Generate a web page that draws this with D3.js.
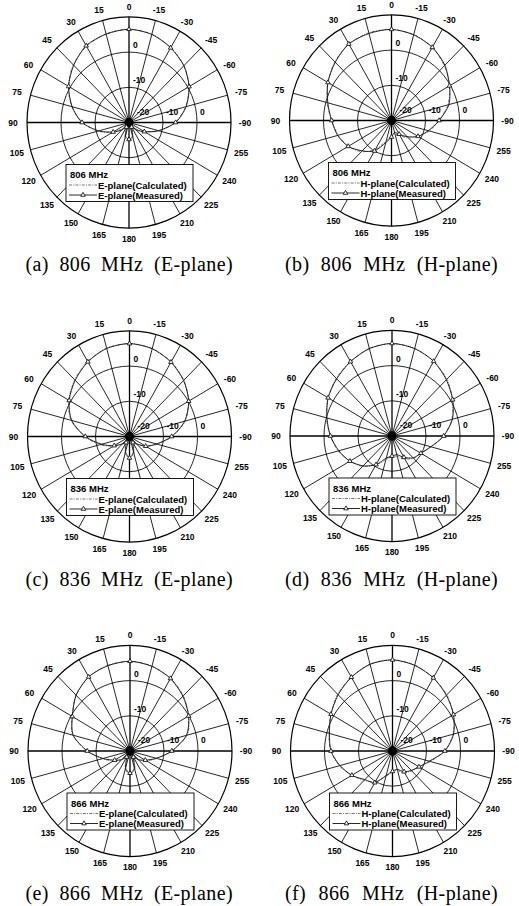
<!DOCTYPE html>
<html>
<head>
<meta charset="utf-8">
<script src="https://cdn.jsdelivr.net/npm/d3@7"></script>
<style>
  body { margin: 0; background: #fff; }
  svg { display: block; }
</style>
</head>
<body>
<svg id="fig" width="519" height="906"></svg>
<script>
// Azimuth of each sample (degrees, counter-clockwise from the top)
const angles = [0, 15, 30, 45, 60, 75, 90, 105, 120, 135, 150, 165,
                180, 195, 210, 225, 240, 255, 270, 285, 300, 315, 330, 345];
// Labels printed around the rim for each spoke
const angleLabels = ["0", "15", "30", "45", "60", "75", "90", "105", "120", "135", "150", "165",
                     "180", "195", "210", "225", "240", "255", "-90", "-75", "-60", "-45", "-30", "-15"];
// Radial (gain, dB) rings
const ringValues = [-10, 0, 10];
const radialLabelsH = [-20, -10, 0];
const radialLabelsV = [-10, 0];

// Radiation patterns in dB, one value per entry of `angles`
const e806Calc = [6.5, 6.1, 5.0, 3.2, 0.6, -2.6, -6.3, -10.5, -14.5, -17.5, -18.0, -15.5, -15.0, -15.5, -18.0, -17.5, -14.8, -10.8, -6.4, -2.8, 0.4, 2.9, 4.6, 6.0];
const e806Meas = [6.5, 6.0, 5.2, 3.0, 0.5, -2.7, -6.2, -10.8, -14.6, -17.0, -18.5, -16.0, -15.2, -16.0, -18.5, -17.0, -14.8, -11.0, -6.3, -2.6, 0.4, 2.8, 4.5, 5.9];
const h806Calc = [5.9, 5.8, 5.1, 3.6, 1.6, -0.4, -2.4, -3.8, -5.3, -7.5, -10.5, -14.0, -15.5, -16.0, -15.0, -13.0, -11.0, -8.5, -6.0, -2.8, -0.3, 2.0, 4.0, 5.3];
const h806Meas = [5.9, 5.6, 5.1, 3.4, 1.6, -0.6, -2.4, -3.6, -5.3, -7.8, -10.0, -13.5, -15.3, -16.5, -15.5, -13.5, -11.0, -8.8, -6.0, -2.5, -0.3, 2.2, 4.0, 5.2];
const e836Calc = [6.4, 6.0, 4.6, 2.8, 0.6, -2.2, -6.8, -11.0, -14.5, -17.0, -17.5, -15.0, -14.0, -15.0, -17.5, -17.0, -14.5, -11.5, -7.4, -3.0, 0.1, 2.6, 4.5, 5.9];
const e836Meas = [6.4, 5.9, 4.5, 2.6, 0.5, -2.4, -7.0, -11.5, -14.8, -17.0, -18.0, -15.5, -13.9, -15.5, -18.0, -17.0, -14.5, -11.8, -7.6, -3.2, 0.1, 2.5, 4.4, 5.8];
const h836Calc = [6.3, 5.8, 4.4, 3.2, 1.7, 0.0, -1.9, -3.6, -5.7, -7.8, -10.6, -13.0, -14.3, -14.0, -12.5, -11.0, -10.2, -8.0, -4.8, -1.8, 0.6, 2.8, 4.5, 5.8];
const h836Meas = [6.3, 5.7, 4.4, 3.0, 1.7, -0.2, -1.9, -3.8, -5.7, -8.0, -10.6, -13.5, -14.3, -14.5, -13.0, -11.2, -10.2, -8.2, -4.8, -1.6, 0.6, 2.6, 4.5, 5.7];
const e866Calc = [5.5, 5.2, 4.3, 2.5, -0.4, -2.5, -7.4, -11.5, -14.5, -16.5, -17.5, -14.5, -13.7, -14.5, -17.5, -16.5, -14.5, -11.8, -7.7, -2.6, -0.1, 2.2, 3.8, 5.0];
const e866Meas = [5.5, 5.1, 4.3, 2.4, -0.4, -2.7, -7.4, -11.8, -14.8, -16.5, -18.0, -15.0, -13.7, -15.0, -18.0, -16.5, -14.8, -12.0, -7.7, -2.8, -0.1, 2.0, 3.8, 4.9];
const h866Calc = [5.9, 5.6, 4.2, 2.8, 0.9, -0.6, -1.9, -3.8, -6.2, -8.2, -10.0, -12.5, -14.2, -14.2, -13.0, -12.0, -11.0, -8.5, -4.6, -1.6, 0.7, 2.6, 4.0, 5.3];
const h866Meas = [5.9, 5.5, 4.2, 2.6, 0.9, -0.8, -1.9, -4.0, -6.2, -8.5, -9.6, -12.8, -14.2, -14.6, -13.2, -12.2, -11.0, -8.8, -4.6, -1.4, 0.7, 2.4, 4.0, 5.2];

const panels = [
  { tag: "(a)", freq: "806 MHz", plane: "E-plane", calc: e806Calc, meas: e806Meas },
  { tag: "(b)", freq: "806 MHz", plane: "H-plane", calc: h806Calc, meas: h806Meas },
  { tag: "(c)", freq: "836 MHz", plane: "E-plane", calc: e836Calc, meas: e836Meas },
  { tag: "(d)", freq: "836 MHz", plane: "H-plane", calc: h836Calc, meas: h836Meas },
  { tag: "(e)", freq: "866 MHz", plane: "E-plane", calc: e866Calc, meas: e866Meas },
  { tag: "(f)", freq: "866 MHz", plane: "H-plane", calc: h866Calc, meas: h866Meas }
];

// Page layout: centre of each polar plot and caption rows
const centers = [[129, 122.5], [391.5, 120.5], [129.5, 436.5], [392, 436], [130, 751], [392.5, 751]];
const captionX = [25.5, 285];
const captionW = [207.5, 213];
const captionY = [271, 585.5, 900];

const R = 102;        // outer rim radius
const ky = 1.035;     // slight vertical stretch of the printed figure
const sans = "'Liberation Sans', Arial, sans-serif";

const rScale = d3.scaleLinear().domain([-20, 10]).range([0, R]).clamp(true);
const aScale = d3.scaleLinear().domain([0, 360]).range([0, 2 * Math.PI]);

function pt(deg, r) {
  const a = aScale(deg);
  return [-r * Math.sin(a), -r * Math.cos(a) * ky];
}

const svg = d3.select("#fig");
const curve = d3.line().x(d => d[0]).y(d => d[1]).curve(d3.curveCardinalClosed.tension(0.2));
const tri = d3.symbol().type(d3.symbolTriangle).size(9);

panels.forEach((p, i) => {
  const [cx, cy] = centers[i];
  const g = svg.append("g").attr("transform", `translate(${cx},${cy})`);

  // spokes
  g.selectAll("line.spoke").data(angles).join("line")
    .attr("class", "spoke")
    .attr("x1", 0).attr("y1", 0)
    .attr("x2", d => pt(d, R)[0]).attr("y2", d => pt(d, R)[1])
    .attr("stroke", "#000")
    .attr("stroke-width", d => d % 90 === 0 ? 1.3 : 0.85);

  // rings
  g.selectAll("ellipse.ring").data(ringValues).join("ellipse")
    .attr("class", "ring")
    .attr("rx", d => rScale(d)).attr("ry", d => rScale(d) * ky)
    .attr("fill", "none").attr("stroke", "#000")
    .attr("stroke-width", d => d === 10 ? 1.2 : 0.85);

  // dense hub where the spokes meet
  g.append("ellipse").attr("rx", 4.5).attr("ry", 4.5 * ky).attr("fill", "#000");

  // pattern curves
  const calcPts = p.calc.map((v, k) => pt(angles[k], rScale(v)));
  const measPts = p.meas.map((v, k) => pt(angles[k], rScale(v)));
  g.append("path").attr("d", curve(calcPts))
    .attr("fill", "none").attr("stroke", "#666").attr("stroke-width", 0.9)
    .attr("stroke-dasharray", "3,1.2,1,1.2");
  g.append("path").attr("d", curve(measPts))
    .attr("fill", "none").attr("stroke", "#111").attr("stroke-width", 0.9);
  g.selectAll("path.mk").data(measPts.filter((d, k) => k % 2 === 0)).join("path")
    .attr("class", "mk")
    .attr("d", tri)
    .attr("transform", d => `translate(${d[0]},${d[1]})`)
    .attr("fill", "#fff").attr("stroke", "#000").attr("stroke-width", 0.8);

  // angle labels round the rim
  g.selectAll("text.ang").data(angles).join("text")
    .attr("class", "ang")
    .attr("x", d => pt(d, 116)[0]).attr("y", d => pt(d, 116)[1] / ky)
    .attr("text-anchor", "middle").attr("dominant-baseline", "central")
    .attr("font-family", sans).attr("font-weight", "bold").attr("font-size", 8.5)
    .text((d, k) => angleLabels[k]);

  // radial labels along the horizontal axis
  g.selectAll("text.rh").data(radialLabelsH).join("text")
    .attr("class", "rh")
    .attr("x", d => rScale(d) + (d === -20 ? 8 : 3)).attr("y", -11)
    .attr("dominant-baseline", "central")
    .attr("font-family", sans).attr("font-weight", "bold").attr("font-size", 8.5)
    .text(d => d);

  // radial labels along the vertical axis
  g.selectAll("text.rv").data(radialLabelsV).join("text")
    .attr("class", "rv")
    .attr("x", 4).attr("y", d => -rScale(d) * ky - 7)
    .attr("dominant-baseline", "central")
    .attr("font-family", sans).attr("font-weight", "bold").attr("font-size", 8.5)
    .text(d => d);

  // legend box
  const lg = g.append("g").attr("transform", "translate(-63,42)");
  lg.append("rect").attr("width", 127).attr("height", 37)
    .attr("fill", "#fff").attr("stroke", "#000").attr("stroke-width", 0.9);
  lg.append("text").attr("x", 4).attr("y", 10).attr("dominant-baseline", "central")
    .attr("font-family", sans).attr("font-weight", "bold").attr("font-size", 9.5)
    .text(p.freq);
  lg.append("line").attr("x1", 3).attr("x2", 31).attr("y1", 20.5).attr("y2", 20.5)
    .attr("stroke", "#666").attr("stroke-width", 0.9).attr("stroke-dasharray", "3,1.2,1,1.2");
  lg.append("text").attr("x", 32).attr("y", 20.5).attr("dominant-baseline", "central")
    .attr("font-family", sans).attr("font-weight", "bold").attr("font-size", 9.5)
    .text(p.plane + "(Calculated)");
  lg.append("line").attr("x1", 3).attr("x2", 31).attr("y1", 30.5).attr("y2", 30.5)
    .attr("stroke", "#111").attr("stroke-width", 0.9);
  lg.append("path").attr("d", tri).attr("transform", "translate(17,30.5)")
    .attr("fill", "#fff").attr("stroke", "#000").attr("stroke-width", 0.8);
  lg.append("text").attr("x", 32).attr("y", 30.5).attr("dominant-baseline", "central")
    .attr("font-family", sans).attr("font-weight", "bold").attr("font-size", 9.5)
    .text(p.plane + "(Measured)");

  // caption under the plot, spread to its printed width
  const cap = svg.append("text")
    .attr("x", captionX[i % 2]).attr("y", captionY[Math.floor(i / 2)])
    .attr("font-family", "'Liberation Serif', 'Times New Roman', serif")
    .attr("font-size", 20)
    .attr("letter-spacing", 0.4)
    .text(`${p.tag} ${p.freq} (${p.plane})`);
  const natural = cap.node().getComputedTextLength();
  cap.attr("word-spacing", Math.max(0, (captionW[i % 2] - natural) / 3));
});
</script>
</body>
</html>
